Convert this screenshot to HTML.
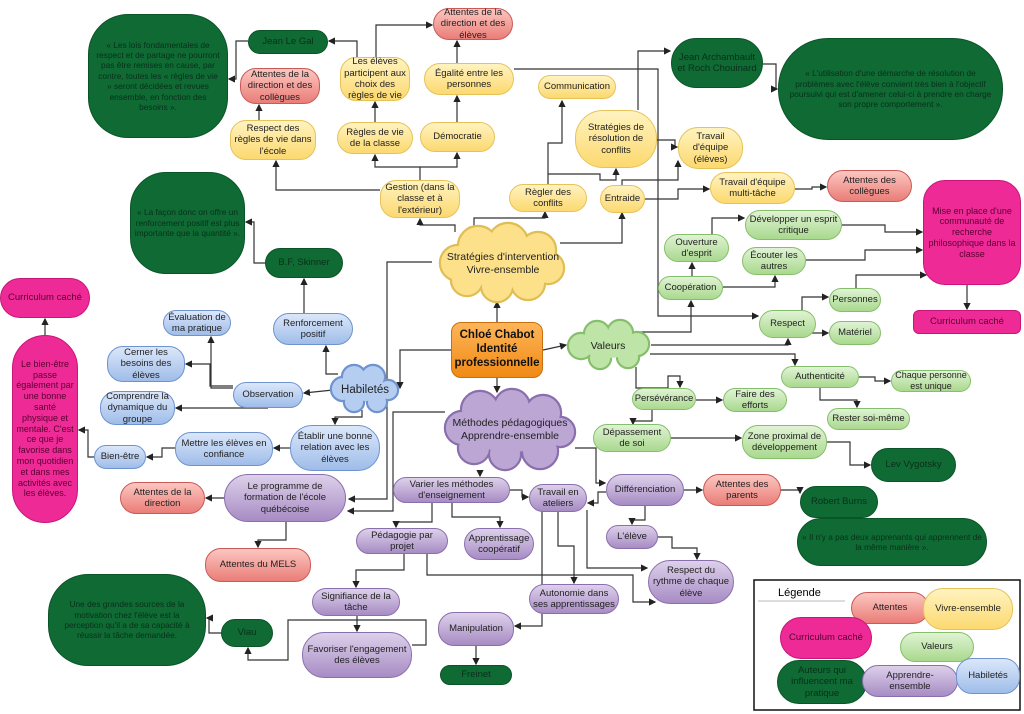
<!DOCTYPE html>
<html><head><meta charset="utf-8"><style>
body{margin:0;background:#fff;}
#c{position:relative;width:1024px;height:714px;overflow:hidden;font-family:"Liberation Sans",sans-serif;}
.n{position:absolute;box-sizing:border-box;display:flex;align-items:center;justify-content:center;text-align:center;font-size:9.5px;line-height:1.2;border-radius:16px;border:1.5px solid;color:#222;padding:1px 3px;}
.y{background:linear-gradient(#fff3c0,#fcd970);border-color:#e6c35a;}
.g{background:linear-gradient(#e0f3d4,#a9d98e);border-color:#86bf6c;}
.b{background:linear-gradient(#dbe7fa,#9fbde9);border-color:#6f93cf;}
.p{background:linear-gradient(#ddd0ea,#a78cc4);border-color:#8a6fae;}
.r{background:linear-gradient(#fcc6c0,#ea7d78);border-color:#c95a58;}
.d{background:#0f6a34;border-color:#0a5528;color:#08301a;border-radius:22px;}
.k{background:#ee2a97;border-color:#c8157a;color:#5a0030;border-radius:22px;}
.o{background:linear-gradient(#fdb55a,#f08a14);border-color:#c96f10;font-weight:bold;font-size:11.5px;color:#111;border-radius:10px;}
.q{font-size:8.3px;line-height:1.25;}
svg{position:absolute;left:0;top:0;}
</style></head><body><div id="c">
<svg width="1024" height="714">
<defs><marker id="a" markerWidth="6" markerHeight="6" refX="5" refY="3" orient="auto"><path d="M0,0L6,3L0,6z" fill="#222"/></marker></defs>
<g fill="none" stroke="#333" stroke-width="1.2" marker-end="url(#a)">
<polyline points="451,350 400,350 400,388"/>
<polyline points="497,322 497,302"/>
<polyline points="543,350 566,345"/>
<polyline points="497,378 497,392"/>
<polyline points="455,232 455,225 420,225 420,219"/>
<polyline points="474,228 474,218 545,218 545,212"/>
<polyline points="560,243 622,243 622,213"/>
<polyline points="432,262 387,262 387,499 349,499"/>
<polyline points="380,190 276,190 276,161"/>
<polyline points="420,180 420,167 375,167 375,155"/>
<polyline points="420,167 457,167 457,153"/>
<polyline points="259,120 259,105"/>
<polyline points="375,122 375,102"/>
<polyline points="357,57 357,41 329,41"/>
<polyline points="376,57 376,25 432,25"/>
<polyline points="457,122 457,96"/>
<polyline points="457,63 457,41"/>
<polyline points="248,41 236,41 236,79 229,79"/>
<polyline points="514,69 658,69 658,316 758,316"/>
<polyline points="548,184 548,143 562,143 562,101"/>
<polyline points="548,174 600,174 600,180 616,180 616,169"/>
<polyline points="638,110 638,51 670,51"/>
<polyline points="657,140 675,140 675,147 677,147"/>
<polyline points="622,185 622,180 678,180 678,161"/>
<polyline points="645,199 678,199 678,189 709,189"/>
<polyline points="795,189 812,189 812,187 826,187"/>
<polyline points="763,64 776,64 776,89 777,89"/>
<polyline points="967,285 967,309"/>
<polyline points="842,225 885,225 885,232 922,232"/>
<polyline points="806,260 865,260 865,250 922,250"/>
<polyline points="856,288 856,275 926,275"/>
<polyline points="712,234 712,218 744,218"/>
<polyline points="692,276 692,263"/>
<polyline points="723,287 775,287 775,276"/>
<polyline points="640,332 691,332 691,301"/>
<polyline points="651,345 788,345 788,339"/>
<polyline points="802,310 802,297 828,297"/>
<polyline points="802,338 802,333 828,333"/>
<polyline points="650,354 795,354 795,365"/>
<polyline points="636,367 636,388 668,388 668,376 680,376 680,387"/>
<polyline points="859,377 875,377 875,381 890,381"/>
<polyline points="820,388 820,400 857,400 857,407"/>
<polyline points="696,400 722,400"/>
<polyline points="652,410 652,421 633,421 633,424"/>
<polyline points="671,438 741,438"/>
<polyline points="827,442 850,442 850,465 870,465"/>
<polyline points="575,448 596,448 596,483 605,483"/>
<polyline points="606,492 598,492 598,503 588,503"/>
<polyline points="684,490 702,490"/>
<polyline points="781,490 800,490 800,493"/>
<polyline points="645,506 645,520 632,520 632,524"/>
<polyline points="658,537 672,537 672,548 697,548 697,559"/>
<polyline points="587,510 587,568 647,568"/>
<polyline points="558,512 558,546 574,546 574,583"/>
<polyline points="542,510 542,626 515,626"/>
<polyline points="510,490 522,490 522,497 528,497"/>
<polyline points="480,470 480,476"/>
<polyline points="445,412 393,412 393,511 348,511"/>
<polyline points="432,503 432,522 396,522 396,527"/>
<polyline points="452,503 452,517 500,517 500,527"/>
<polyline points="404,554 404,570 356,570 356,587"/>
<polyline points="427,554 427,575 633,575 633,602 655,602"/>
<polyline points="357,616 357,631"/>
<polyline points="412,645 426,645 426,620 288,620 288,660 248,660 248,648"/>
<polyline points="221,633 209,633 209,618 207,618"/>
<polyline points="476,646 476,664"/>
<polyline points="224,498 206,498"/>
<polyline points="286,522 286,540 258,540 258,547"/>
<polyline points="338,374 326,374 326,346"/>
<polyline points="304,313 304,279"/>
<polyline points="265,263 254,263 254,222 246,222"/>
<polyline points="333,390 304,393"/>
<polyline points="233,388 211,388 211,337"/>
<polyline points="233,386 210,386 210,364 186,364"/>
<polyline points="268,408 176,408"/>
<polyline points="362,410 362,417 335,417 335,424"/>
<polyline points="290,448 274,448"/>
<polyline points="175,448 162,448 162,457 147,457"/>
<polyline points="94,457 88,457 88,430 79,430"/>
<polyline points="45,335 45,319"/>
</g>
<!-- yellow cloud -->
<g stroke="#e0bd55" stroke-width="2.4" fill="#fce08a">
<circle cx="458" cy="263" r="18"/><circle cx="478" cy="246" r="20"/><circle cx="508" cy="243" r="20"/><circle cx="538" cy="250" r="18"/><circle cx="548" cy="268" r="16"/><circle cx="528" cy="283" r="17"/><circle cx="497" cy="286" r="16"/><circle cx="467" cy="280" r="16"/></g>
<g fill="#fce08a"><circle cx="458" cy="263" r="17"/><circle cx="478" cy="246" r="19"/><circle cx="508" cy="243" r="19"/><circle cx="538" cy="250" r="17"/><circle cx="548" cy="268" r="15"/><circle cx="528" cy="283" r="16"/><circle cx="497" cy="286" r="15"/><circle cx="467" cy="280" r="15"/><ellipse cx="503" cy="264" rx="44" ry="24"/></g>
<!-- green cloud -->
<g stroke="#86bf6c" stroke-width="2.4" fill="#bfe4a8">
<circle cx="581" cy="346" r="13"/><circle cx="597" cy="334" r="13"/><circle cx="620" cy="333" r="13"/><circle cx="637" cy="344" r="12"/><circle cx="628" cy="357" r="11"/><circle cx="600" cy="358" r="11"/></g>
<g fill="#bfe4a8"><circle cx="581" cy="346" r="12"/><circle cx="597" cy="334" r="12"/><circle cx="620" cy="333" r="12"/><circle cx="637" cy="344" r="11"/><circle cx="628" cy="357" r="10"/><circle cx="600" cy="358" r="10"/><ellipse cx="608" cy="346" rx="26" ry="12"/></g>
<!-- blue cloud -->
<g stroke="#6f93cf" stroke-width="2.4" fill="#b4cdf0">
<circle cx="343" cy="389" r="12"/><circle cx="354" cy="377" r="12"/><circle cx="373" cy="377" r="12"/><circle cx="388" cy="390" r="10"/><circle cx="377" cy="402" r="10"/><circle cx="354" cy="402" r="10"/></g>
<g fill="#b4cdf0"><circle cx="343" cy="389" r="11"/><circle cx="354" cy="377" r="11"/><circle cx="373" cy="377" r="11"/><circle cx="388" cy="390" r="9"/><circle cx="377" cy="402" r="9"/><circle cx="354" cy="402" r="9"/><ellipse cx="366" cy="389" rx="20" ry="12"/></g>
<!-- purple cloud -->
<g stroke="#8a6fae" stroke-width="2.4" fill="#bca6d4">
<circle cx="462" cy="428" r="17"/><circle cx="480" cy="410" r="19"/><circle cx="512" cy="407" r="18"/><circle cx="543" cy="413" r="18"/><circle cx="560" cy="432" r="15"/><circle cx="540" cy="451" r="18"/><circle cx="505" cy="454" r="16"/><circle cx="474" cy="448" r="16"/></g>
<g fill="#bca6d4"><circle cx="462" cy="428" r="16"/><circle cx="480" cy="410" r="18"/><circle cx="512" cy="407" r="17"/><circle cx="543" cy="413" r="17"/><circle cx="560" cy="432" r="14"/><circle cx="540" cy="451" r="17"/><circle cx="505" cy="454" r="15"/><circle cx="474" cy="448" r="15"/><ellipse cx="510" cy="430" rx="44" ry="22"/></g>
<g font-family="Liberation Sans, sans-serif" font-size="10.5" text-anchor="middle" fill="#222">
<text x="503" y="260">Stratégies d'intervention</text><text x="503" y="273">Vivre-ensemble</text>
<text x="608" y="349">Valeurs</text>
<text x="365" y="393" font-size="11.5">Habiletés</text>
<text x="510" y="426">Méthodes pédagogiques</text><text x="510" y="439">Apprendre-ensemble</text>
</g>
<rect x="754" y="580" width="266" height="130" fill="none" stroke="#111" stroke-width="1.5"/>
<line x1="758" y1="601" x2="845" y2="601" stroke="#bbb"/>
<text x="778" y="596" font-family="Liberation Sans, sans-serif" font-size="11">Légende</text>
</svg>

<div class="n d" style="left:248px;top:30px;width:80px;height:24px">Jean Le Gal</div>
<div class="n d q" style="left:88px;top:14px;width:140px;height:124px;border-radius:40px;padding:2px 6px">« Les lois fondamentales de respect et de partage ne pourront pas être remises en cause, par contre, toutes les « règles de vie » seront décidées et revues ensemble, en fonction des besoins ».</div>
<div class="n r" style="left:240px;top:68px;width:80px;height:36px">Attentes de la direction et des collègues</div>
<div class="n y" style="left:340px;top:57px;width:70px;height:44px">Les élèves participent aux choix des règles de vie</div>
<div class="n r" style="left:433px;top:8px;width:80px;height:32px">Attentes de la direction et des élèves</div>
<div class="n y" style="left:424px;top:63px;width:90px;height:32px">Égalité entre les personnes</div>
<div class="n y" style="left:230px;top:120px;width:86px;height:40px">Respect des règles de vie dans l'école</div>
<div class="n y" style="left:337px;top:122px;width:76px;height:32px">Règles de vie de la classe</div>
<div class="n y" style="left:420px;top:122px;width:75px;height:30px">Démocratie</div>
<div class="n y" style="left:380px;top:180px;width:80px;height:38px">Gestion (dans la classe et à l'extérieur)</div>
<div class="n d q" style="left:130px;top:172px;width:115px;height:102px;border-radius:36px">« La façon donc on offre un renforcement positif est plus importante que la quantité ».</div>
<div class="n d" style="left:265px;top:248px;width:78px;height:30px">B.F, Skinner</div>
<div class="n y" style="left:538px;top:75px;width:78px;height:24px">Communication</div>
<div class="n y" style="left:575px;top:110px;width:82px;height:58px;border-radius:28px">Stratégies de résolution de conflits</div>
<div class="n y" style="left:678px;top:127px;width:65px;height:42px;border-radius:20px">Travail d'équipe (élèves)</div>
<div class="n y" style="left:509px;top:184px;width:78px;height:28px">Règler des conflits</div>
<div class="n y" style="left:600px;top:185px;width:45px;height:28px">Entraide</div>
<div class="n y" style="left:710px;top:172px;width:85px;height:32px">Travail d'équipe multi-tâche</div>
<div class="n r" style="left:827px;top:170px;width:85px;height:32px">Attentes des collègues</div>
<div class="n d" style="left:671px;top:38px;width:92px;height:50px;border-radius:25px">Jean Archambault et Roch Chouinard</div>
<div class="n d q" style="left:778px;top:38px;width:225px;height:102px;border-radius:50px;padding:2px 10px">« L'utilisation d'une démarche de résolution de problèmes avec l'élève convient très bien à l'objectif poursuivi qui est d'amener celui-ci à prendre en charge son propre comportement ».</div>
<div class="n k" style="left:923px;top:180px;width:98px;height:105px;font-size:9px">Mise en place d'une communauté de recherche philosophique dans la classe</div>
<div class="n k" style="left:913px;top:310px;width:108px;height:24px;border-radius:6px">Curriculum caché</div>
<div class="n g" style="left:745px;top:210px;width:97px;height:30px">Développer un esprit critique</div>
<div class="n g" style="left:664px;top:234px;width:65px;height:28px">Ouverture d'esprit</div>
<div class="n g" style="left:742px;top:247px;width:64px;height:28px">Écouter les autres</div>
<div class="n g" style="left:658px;top:276px;width:65px;height:24px">Coopération</div>
<div class="n g" style="left:829px;top:288px;width:52px;height:24px">Personnes</div>
<div class="n g" style="left:759px;top:310px;width:57px;height:28px">Respect</div>
<div class="n g" style="left:829px;top:321px;width:52px;height:24px">Matériel</div>
<div class="n o" style="left:451px;top:322px;width:92px;height:56px">Chloé Chabot Identité professionnelle</div>
<div class="n b" style="left:273px;top:313px;width:80px;height:32px">Renforcement positif</div>
<div class="n b" style="left:163px;top:310px;width:68px;height:26px">Évaluation de ma pratique</div>
<div class="n b" style="left:107px;top:346px;width:78px;height:36px">Cerner les besoins des élèves</div>
<div class="n b" style="left:100px;top:391px;width:75px;height:34px">Comprendre la dynamique du groupe</div>
<div class="n b" style="left:233px;top:382px;width:70px;height:26px">Observation</div>
<div class="n b" style="left:290px;top:425px;width:90px;height:46px;border-radius:22px">Établir une bonne relation avec les élèves</div>
<div class="n b" style="left:175px;top:432px;width:98px;height:34px">Mettre les élèves en confiance</div>
<div class="n b" style="left:94px;top:445px;width:52px;height:24px">Bien-être</div>
<div class="n k" style="left:0px;top:278px;width:90px;height:40px">Curriculum caché</div>
<div class="n k" style="left:12px;top:335px;width:66px;height:188px;border-radius:33px;font-size:9px">Le bien-être passe également par une bonne santé physique et mentale. C'est ce que je favorise dans mon quotidien et dans mes activités avec les élèves.</div>
<div class="n p" style="left:393px;top:477px;width:117px;height:26px">Varier les méthodes d'enseignement</div>
<div class="n p" style="left:224px;top:474px;width:122px;height:48px;border-radius:24px">Le programme de formation de l'école québécoise</div>
<div class="n r" style="left:120px;top:482px;width:85px;height:32px">Attentes de la direction</div>
<div class="n r" style="left:205px;top:548px;width:106px;height:34px">Attentes du MELS</div>
<div class="n p" style="left:356px;top:528px;width:92px;height:26px">Pédagogie par projet</div>
<div class="n p" style="left:464px;top:528px;width:70px;height:32px">Apprentissage coopératif</div>
<div class="n p" style="left:529px;top:484px;width:58px;height:28px">Travail en ateliers</div>
<div class="n p" style="left:606px;top:474px;width:78px;height:32px">Différenciation</div>
<div class="n r" style="left:703px;top:474px;width:78px;height:32px">Attentes des parents</div>
<div class="n d" style="left:800px;top:486px;width:78px;height:32px">Robert Burns</div>
<div class="n d q" style="left:797px;top:518px;width:190px;height:48px;border-radius:24px">« Il n'y a pas deux apprenants qui apprennent de la même manière ».</div>
<div class="n p" style="left:606px;top:525px;width:52px;height:24px">L'élève</div>
<div class="n p" style="left:648px;top:560px;width:86px;height:44px;border-radius:22px">Respect du rythme de chaque élève</div>
<div class="n p" style="left:529px;top:584px;width:90px;height:30px">Autonomie dans ses apprentissages</div>
<div class="n p" style="left:312px;top:588px;width:88px;height:28px">Signifiance de la tâche</div>
<div class="n p" style="left:302px;top:632px;width:110px;height:46px;border-radius:22px">Favoriser l'engagement des élèves</div>
<div class="n p" style="left:438px;top:612px;width:76px;height:34px">Manipulation</div>
<div class="n d" style="left:440px;top:665px;width:72px;height:20px">Freinet</div>
<div class="n d" style="left:221px;top:619px;width:52px;height:28px">Viau</div>
<div class="n d q" style="left:48px;top:574px;width:158px;height:92px;border-radius:40px;padding:2px 8px">Une des grandes sources de la motivation chez l'élève est la perception qu'il a de sa capacité à réussir la tâche demandée.</div>
<div class="n g" style="left:632px;top:388px;width:64px;height:22px">Persévérance</div>
<div class="n g" style="left:723px;top:388px;width:64px;height:24px">Faire des efforts</div>
<div class="n g" style="left:593px;top:424px;width:78px;height:28px">Dépassement de soi</div>
<div class="n g" style="left:742px;top:425px;width:85px;height:34px">Zone proximal de développement</div>
<div class="n d" style="left:871px;top:448px;width:85px;height:34px">Lev Vygotsky</div>
<div class="n g" style="left:781px;top:366px;width:78px;height:22px">Authenticité</div>
<div class="n g" style="left:891px;top:370px;width:80px;height:22px;font-size:9px">Chaque personne est unique</div>
<div class="n g" style="left:827px;top:408px;width:83px;height:22px">Rester soi-même</div>
<div class="n r" style="left:851px;top:592px;width:78px;height:32px">Attentes</div>
<div class="n y" style="left:923px;top:588px;width:90px;height:42px;border-radius:20px">Vivre-ensemble</div>
<div class="n k" style="left:780px;top:617px;width:92px;height:42px">Curriculum caché</div>
<div class="n g" style="left:900px;top:632px;width:74px;height:30px">Valeurs</div>
<div class="n d" style="left:777px;top:660px;width:90px;height:44px">Auteurs qui influencent ma pratique</div>
<div class="n p" style="left:862px;top:665px;width:96px;height:32px">Apprendre-ensemble</div>
<div class="n b" style="left:956px;top:658px;width:64px;height:36px">Habiletés</div>
</div></body></html>
